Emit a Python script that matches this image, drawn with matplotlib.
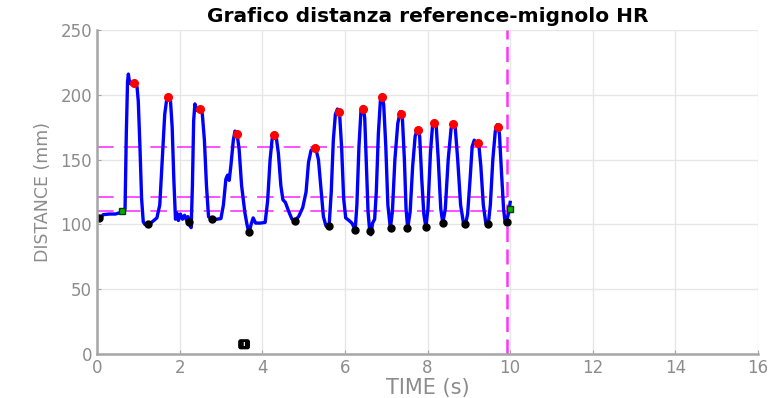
import numpy as np
import matplotlib
matplotlib.use("Agg")
import matplotlib.pyplot as plt

# traccia distanza (s, mm)
t = [0.0, 0.1, 0.15, 0.3, 0.45, 0.55, 0.6, 0.65, 0.68, 0.71, 0.74, 0.76, 0.79, 0.85,
     0.92, 0.97, 1.0, 1.04, 1.08, 1.12, 1.16, 1.2, 1.3, 1.45, 1.52, 1.58, 1.64, 1.69,
     1.74, 1.78, 1.82, 1.86, 1.9, 1.93, 1.97, 2.02, 2.07, 2.12, 2.17, 2.2, 2.24, 2.28,
     2.31, 2.34, 2.37, 2.41, 2.5, 2.55, 2.6, 2.65, 2.7, 2.78, 2.9, 3.0, 3.06, 3.12,
     3.16, 3.2, 3.24, 3.3, 3.34, 3.39, 3.44, 3.5, 3.58, 3.63, 3.68, 3.73, 3.78, 3.84,
     3.95, 4.07, 4.13, 4.19, 4.24, 4.29, 4.34, 4.39, 4.45, 4.5, 4.56, 4.64, 4.72, 4.79,
     4.88, 4.98, 5.06, 5.12, 5.18, 5.24, 5.3, 5.36, 5.42, 5.48, 5.54, 5.58, 5.62, 5.67,
     5.72, 5.77, 5.82, 5.87, 5.92, 5.97, 6.02, 6.1, 6.17, 6.25, 6.29, 6.34, 6.39, 6.44,
     6.48, 6.52, 6.56, 6.6, 6.63, 6.67, 6.72, 6.76, 6.81, 6.86, 6.9, 6.94, 6.99, 7.04,
     7.1, 7.15, 7.21, 7.28, 7.34, 7.39, 7.44, 7.48, 7.52, 7.58, 7.64, 7.7, 7.76, 7.81,
     7.86, 7.91, 7.96, 8.01, 8.07, 8.12, 8.16, 8.21, 8.26, 8.32, 8.37, 8.43, 8.5, 8.57,
     8.62, 8.67, 8.73, 8.8, 8.87, 8.92, 8.97, 9.03, 9.08, 9.13, 9.18, 9.24, 9.29, 9.35,
     9.41, 9.47, 9.52, 9.58, 9.64, 9.69, 9.74, 9.79, 9.84, 9.88, 9.92, 9.97, 10.0]
dist = [105, 105, 107.5, 108, 108, 109, 110, 109, 112, 170, 210, 216, 209, 208,
        209, 206, 195, 160, 120, 102, 100, 100, 101, 105, 115, 150, 185, 197,
        199, 195, 175, 135, 104, 109, 103, 108, 104, 107, 103, 106, 100, 97.5,
        130, 180, 193, 188, 189, 185, 165, 130, 106, 104, 104, 104.5, 115, 135,
        138, 134, 145, 165, 172, 170, 158, 130, 109, 100, 93, 100, 105, 101,
        101, 101.5, 118, 150, 166, 169, 167, 155, 130, 119, 117, 110, 104, 103,
        106, 113, 125, 148, 157, 159, 158, 150, 128, 106, 99, 98, 100, 125,
        165, 185, 189, 186, 160, 120, 105, 103, 101, 96, 115, 160, 188, 191,
        182, 145, 110, 95, 92, 101, 104, 125, 170, 196, 200, 192, 160, 115,
        97, 110, 150, 178, 187, 183, 150, 112, 97, 110, 145, 168, 174, 168,
        135, 108, 98, 112, 155, 176, 180, 176, 150, 112, 101, 112, 150, 174,
        178, 175, 150, 115, 101, 100, 108, 135, 160, 165, 163, 162, 145, 115,
        101, 100, 115, 150, 172, 177, 170, 140, 112, 101, 103, 110, 117]

# massimi
t_max = [0.9, 1.72, 2.5, 3.39, 4.29, 5.28, 5.86, 6.44, 6.9, 7.36, 7.77, 8.16, 8.62, 9.22, 9.71]
d_max = [209, 198.5, 189, 170, 169, 159, 187, 189, 198, 185, 173, 178, 177.5, 163, 175]

# minimi
t_min = [0.05, 1.23, 2.23, 2.78, 3.67, 4.79, 5.62, 6.25, 6.61, 7.12, 7.51, 7.96, 8.38, 8.91, 9.47, 9.92]
d_min = [104.6, 100, 101.5, 104, 94, 103, 98.5, 96, 94.6, 97, 97, 98, 101, 100, 100, 101.5]

# inizio / fine
t_start = [0.6, 10.0]
d_start = [110, 112]

# soglie
soglie = [159.5, 120.8, 110]
t_fine = 9.92
t_box, d_box = 3.56, 7.5

fig = plt.figure(figsize=(7.72, 3.98), dpi=100)
ax = fig.add_axes([0.1256, 0.1106, 0.8564, 0.814])

for s in soglie:
    ax.plot([0, t_fine], [s, s], color='#ff33ff', lw=1.2, linestyle=(0, (10, 6)))
ax.axvline(t_fine, color='#ff33ff', lw=1.8, linestyle=(0, (6, 3)))

ax.plot(t, dist, color='#0000ff', lw=2.4)
ax.plot(t_max, d_max, 'o', color='#ff0000', ms=5.5)
ax.plot(t_min, d_min, 'o', color='black', ms=5)
ax.plot(t_start, d_start, 's', color='#00b000', mec='#004000', ms=4.5)
ax.text(t_box, d_box, ' I ', color='white', fontsize=4.5, fontweight='bold',
        ha='center', va='center',
        bbox=dict(boxstyle='round,pad=0.3', fc='black', ec='black'))

ax.set_xlim(0, 16)
ax.set_ylim(0, 250)
ax.set_xticks(np.arange(0, 17, 2))
ax.set_yticks(np.arange(0, 251, 50))
ax.grid(True, color='#e6e6e6', lw=1)
ax.set_axisbelow(True)
for sp in ['top', 'right']:
    ax.spines[sp].set_visible(False)
for sp in ['left', 'bottom']:
    ax.spines[sp].set_color('#a6a6a6')
    ax.spines[sp].set_linewidth(1.8)
ax.tick_params(direction='in', length=3, colors='#a6a6a6', labelcolor='#8c8c8c', labelsize=12)

ax.set_title('Grafico distanza reference-mignolo HR', fontsize=14.5, fontweight='bold', pad=6)
ax.set_xlabel('TIME (s)', fontsize=15, color='#8c8c8c', labelpad=1)
ax.set_ylabel('DISTANCE (mm)', fontsize=12.5, color='#8c8c8c', labelpad=6)

fig.savefig('out.png', dpi=100)
